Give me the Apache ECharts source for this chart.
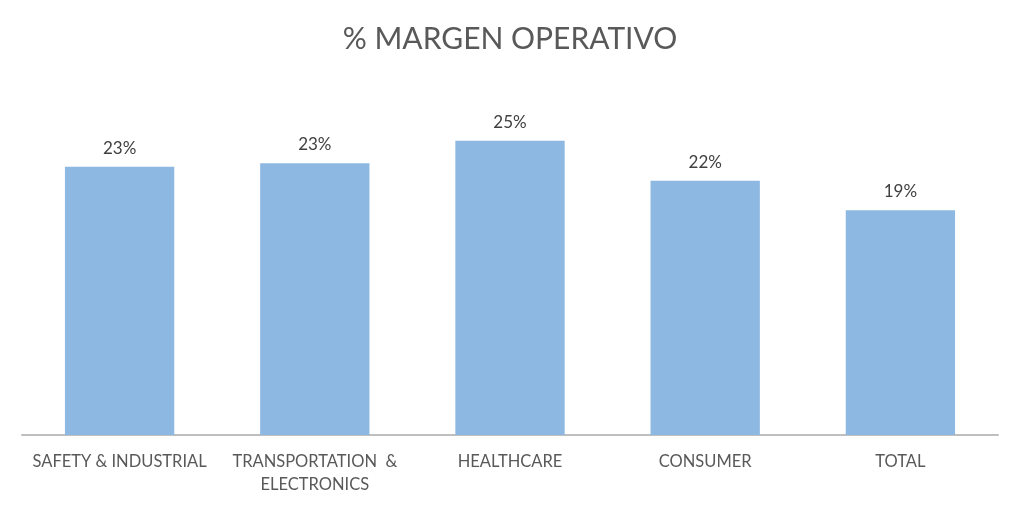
<!DOCTYPE html>
<html><head><meta charset="utf-8">
<script src="https://cdn.jsdelivr.net/npm/echarts@6/dist/echarts.min.js"></script>
<style>html,body{margin:0;padding:0;background:#fff}#c{width:1020px;height:506px}</style>
</head><body><div id="c"></div>
<script>
const categories = ['SAFETY & INDUSTRIAL', 'TRANSPORTATION  &\nELECTRONICS', 'HEALTHCARE', 'CONSUMER', 'TOTAL'];
const margins = [0.228, 0.231, 0.250, 0.216, 0.191];
const titleText = '% MARGEN OPERATIVO';

const chart = echarts.init(document.getElementById('c'), null, {renderer: 'canvas'});
chart.setOption({
  backgroundColor: '#ffffff',
  animation: false,
  title: {
    text: titleText, left: 'center', top: 19,
    textStyle: {fontFamily: 'Lato', fontSize: 30, fontWeight: 'normal', color: '#595959'}
  },
  grid: {left: 22, right: 22, top: 82, bottom: 71, containLabel: false},
  xAxis: {
    type: 'category', data: categories,
    axisLine: {lineStyle: {color: '#bfbfbf', width: 2}},
    axisTick: {show: false},
    axisLabel: {fontFamily: 'Lato', fontSize: 16.5, color: '#595959', margin: 15, lineHeight: 23, interval: 0}
  },
  yAxis: {type: 'value', min: 0, max: 0.30, show: false, splitLine: {show: false}},
  series: [{
    type: 'bar', data: margins, barCategoryGap: '44%',
    itemStyle: {color: '#8db8e2'},
    label: {
      show: true, position: 'top', distance: 10,
      fontFamily: 'Lato', fontSize: 17, color: '#404040',
      formatter: p => Math.round(p.value * 100) + '%'
    }
  }]
});
</script></body></html>
